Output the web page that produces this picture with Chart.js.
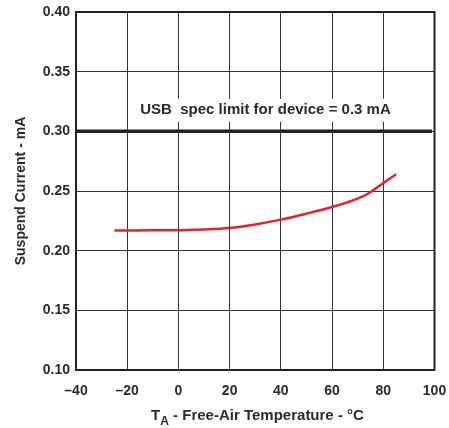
<!DOCTYPE html>
<html>
<head>
<meta charset="utf-8">
<script src="https://cdn.jsdelivr.net/npm/chart.js@4.4.0/dist/chart.umd.min.js"></script>
<style>
html, body { margin: 0; padding: 0; background: #fff; }
</style>
</head>
<body>
<canvas id="chart" width="449" height="428"></canvas>
<script>
// Suspend current vs free-air temperature
const temps = [-25, -10, 0, 10, 20, 30, 40, 50, 60, 70, 75, 80, 85];
const current = [0.2168, 0.2172, 0.2172, 0.2178, 0.219, 0.222, 0.226, 0.231, 0.2366, 0.2436, 0.249, 0.2567, 0.264];
const limitTemps = [-40, 99];
const limitValues = [0.30, 0.30];
const xTicks = [-40, -20, 0, 20, 40, 60, 80, 100];
const yTicks = [0.10, 0.15, 0.20, 0.25, 0.30, 0.35, 0.40];
const limitLabel = 'USB  spec limit for device = 0.3 mA';
const yTitle = 'Suspend Current - mA';

const FONT = '"Liberation Sans", Arial, sans-serif';
const INK = '#2b2b2b';

// Draw the limit label, plot frame and x title (with subscript)
const overlay = {
    id: 'overlay',
    afterDraw(chart) {
        const ctx = chart.ctx;
        const area = chart.chartArea;
        const x = chart.scales.x;
        const y = chart.scales.y;

        ctx.save();
        // label above the limit line
        ctx.font = 'bold 15px ' + FONT;
        const cx = x.getPixelForValue(34);
        const cy = y.getPixelForValue(0.318);
        const w = ctx.measureText(limitLabel).width;
        ctx.fillStyle = '#fff';
        ctx.fillRect(cx - w / 2 - 5, cy - 11, w + 10, 23);
        ctx.fillStyle = INK;
        ctx.textAlign = 'center';
        ctx.textBaseline = 'middle';
        ctx.fillText(limitLabel, cx, cy);

        // frame
        ctx.strokeStyle = '#222';
        ctx.lineWidth = 2;
        ctx.strokeRect(area.left, area.top, area.right - area.left, area.bottom - area.top);

        // x title: T_A - Free-Air Temperature - °C
        ctx.textAlign = 'left';
        ctx.textBaseline = 'alphabetic';
        const main = ' - Free-Air Temperature - \u00B0C';
        ctx.font = 'bold 15px ' + FONT;
        const wT = ctx.measureText('T').width;
        const wMain = ctx.measureText(main).width;
        ctx.font = 'bold 12px ' + FONT;
        const wA = ctx.measureText('A').width;
        const total = wT + wA + wMain;
        let tx = 257.5 - total / 2;
        const base = 420;
        ctx.fillStyle = INK;
        ctx.font = 'bold 15px ' + FONT;
        ctx.fillText('T', tx, base);
        tx += wT;
        ctx.font = 'bold 12px ' + FONT;
        ctx.fillText('A', tx, base + 5);
        tx += wA;
        ctx.font = 'bold 15px ' + FONT;
        ctx.fillText(main, tx, base);
        ctx.restore();
    }
};

new Chart(document.getElementById('chart').getContext('2d'), {
    type: 'line',
    data: {
        datasets: [
            {
                label: 'Limit',
                data: limitTemps.map((t, i) => ({ x: t, y: limitValues[i] })),
                borderColor: '#222',
                borderWidth: 3.5,
                pointRadius: 0,
                tension: 0
            },
            {
                label: 'Suspend current',
                data: temps.map((t, i) => ({ x: t, y: current[i] })),
                borderColor: '#e8202a',
                borderWidth: 2.5,
                pointRadius: 0,
                cubicInterpolationMode: 'monotone'
            }
        ]
    },
    options: {
        responsive: false,
        animation: false,
        layout: {
            padding: { left: 0, right: 14.5, top: 12, bottom: 0 }
        },
        plugins: {
            legend: { display: false },
            tooltip: { enabled: false }
        },
        scales: {
            x: {
                type: 'linear',
                min: -40,
                max: 100,
                afterBuildTicks: function(scale) {
                    scale.ticks = xTicks.map(v => ({ value: v }));
                },
                afterFit: function(scale) {
                    scale.height = 58;
                    scale.paddingLeft = 0;
                    scale.paddingRight = 0;
                },
                ticks: {
                    color: INK,
                    font: { family: FONT, size: 14, weight: 'bold' },
                    padding: 13,
                    maxRotation: 0,
                    callback: function(value) {
                        return value < 0 ? '\u2013' + Math.abs(value) : String(value);
                    }
                },
                grid: {
                    color: '#333',
                    lineWidth: 1,
                    drawTicks: false
                },
                border: { display: false }
            },
            y: {
                type: 'linear',
                min: 0.10,
                max: 0.40,
                afterBuildTicks: function(scale) {
                    scale.ticks = yTicks.map(v => ({ value: v }));
                },
                afterFit: function(scale) {
                    scale.width = 76;
                    scale.paddingTop = 0;
                    scale.paddingBottom = 0;
                },
                ticks: {
                    color: INK,
                    font: { family: FONT, size: 14, weight: 'bold' },
                    padding: 6,
                    callback: function(value) {
                        return value.toFixed(2);
                    }
                },
                grid: {
                    color: '#333',
                    lineWidth: 1,
                    drawTicks: false
                },
                border: { display: false },
                title: {
                    display: true,
                    text: yTitle,
                    color: INK,
                    font: { family: FONT, size: 14, weight: 'bold' },
                    padding: { top: 13, bottom: 0 }
                }
            }
        }
    },
    plugins: [overlay]
});
</script>
</body>
</html>
